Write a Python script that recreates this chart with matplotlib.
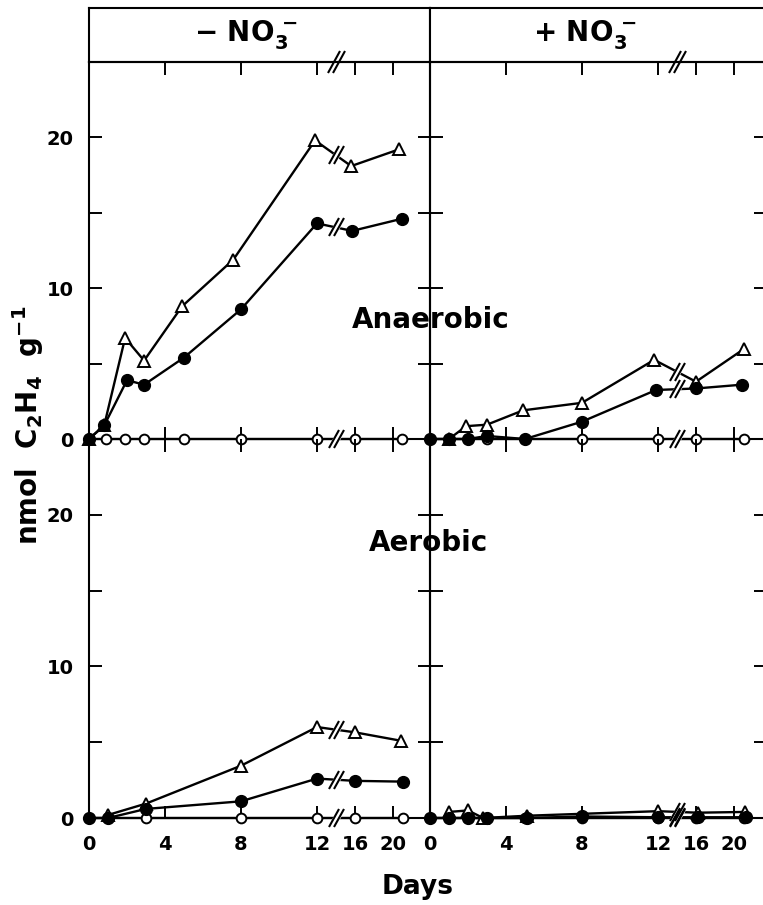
import numpy as np
import matplotlib
matplotlib.use('Agg')
import matplotlib.pyplot as plt
from matplotlib.markers import MarkerStyle
from matplotlib.transforms import Affine2D, offset_copy

# nmol C2H4 g-1 against days
# -NO3, anaerobic
am_tri_days = [0, 0.8, 1.9, 2.9, 4.9, 7.6, 11.9, 15.6, 20.6]
am_tri = [0, 0.9, 6.7, 5.2, 8.8, 11.9, 19.8, 18.1, 19.2]
am_fill_days = [0, 0.8, 2.0, 2.9, 5.0, 8.0, 12.0, 15.7, 20.9]
am_fill = [0, 0.9, 3.9, 3.6, 5.4, 8.6, 14.3, 13.8, 14.6]
am_open_days = [0, 0.9, 1.9, 2.9, 5.0, 8.0, 12.0, 16.0, 20.9]
am_open = [0, 0, 0, 0, 0, 0, 0, 0, 0]
# +NO3, anaerobic
ap_tri_days = [1, 1.9, 3.0, 4.9, 8.0, 11.8, 16.0, 21.0]
ap_tri = [0, 0.85, 0.95, 1.9, 2.4, 5.25, 3.8, 5.95]
ap_fill_days = [0, 1, 2, 3, 5, 8, 11.9, 16.0, 20.8]
ap_fill = [0, 0, 0, 0.2, 0, 1.15, 3.25, 3.35, 3.6]
ap_open_days = [0, 1, 2, 3, 5, 8, 12, 16, 21.1]
ap_open = [0, 0, 0, 0, 0, 0, 0, 0, 0]
# -NO3, aerobic
em_tri_days = [1, 3, 8, 12, 16, 20.8]
em_tri = [0.2, 0.95, 3.45, 6.0, 5.65, 5.1]
em_fill_days = [0, 1, 3, 8, 12, 16, 21]
em_fill = [0, 0, 0.6, 1.1, 2.6, 2.45, 2.4]
em_open_days = [0, 1, 3, 8, 12, 16, 21]
em_open = [0, 0, 0, 0, 0, 0, 0]
# +NO3, aerobic
ep_tri_days = [1, 2, 2.8, 5.1, 12, 16.2, 21.2]
ep_tri = [0.4, 0.5, 0, 0.15, 0.45, 0.35, 0.4]
ep_fill_days = [0, 1, 2, 3, 5.1, 8, 12, 16.2, 21.3]
ep_fill = [0, 0, 0, 0, 0, 0.1, 0.05, 0.05, 0.05]
ep_open_days = [0, 1, 2, 3, 5, 8, 12, 16, 21]
ep_open = [0, 0, 0, 0, 0, 0, 0, 0, 0]

day_ticks = [0, 4, 8, 12, 16, 20]
y_ticks = [0, 5, 10, 15, 20]
y_labels = ['0', '', '10', '', '20']
headers = [r'$-$ NO$_3^{\,-}$', r'+ NO$_3^{\,-}$']
break_day = 14


# axis is compressed by half after day 12
def fwd(d):
    d = np.asarray(d, dtype=float)
    return np.where(d <= 12, d, 12 + (d - 12) / 2)


def inv(p):
    p = np.asarray(p, dtype=float)
    return np.where(p <= 12, p, 12 + (p - 12) * 2)


plt.rcParams['font.family'] = 'DejaVu Sans'
plt.rcParams['font.weight'] = 'bold'
plt.rcParams['mathtext.default'] = 'regular'

W, H = 763, 905
fig = plt.figure(figsize=(W / 100, H / 100), dpi=100)

x0, xmid, x1 = 89, 430, 766
y_head, y_top, y_mid, y_bot = 8, 62, 439, 818
cols = [(x0, xmid), (xmid, x1)]

slash = MarkerStyle('|', transform=Affine2D().rotate_deg(-30))


def brk(ax, y):
    ax.plot([break_day], [y], ls='none', marker=slash, ms=15, mew=5,
            color='white', clip_on=False, zorder=6)
    for dx in (-2.5, 2.5):
        tr = offset_copy(ax.transData, fig=fig, x=dx, y=0, units='dots')
        ax.plot([break_day], [y], ls='none', marker=slash, ms=15, mew=1.5,
                color='black', transform=tr, clip_on=False, zorder=7)


def draw(ax, series):
    for (days, vals, kind) in series:
        if kind == 'open':
            kw = dict(marker='o', ms=7, mfc='white', mec='black', mew=1.4)
        elif kind == 'tri':
            kw = dict(marker='^', ms=8, mfc='white', mec='black', mew=1.4)
        else:
            kw = dict(marker='o', ms=8.5, mfc='black', mec='black')
        ax.plot(days, vals, color='black', lw=1.7, clip_on=False, zorder=5, **kw)
        yb = np.interp(fwd(break_day), fwd(days), vals)
        brk(ax, yb)


panels = [
    [[(am_open_days, am_open, 'open'), (am_tri_days, am_tri, 'tri'), (am_fill_days, am_fill, 'fill')],
     [(em_open_days, em_open, 'open'), (em_tri_days, em_tri, 'tri'), (em_fill_days, em_fill, 'fill')]],
    [[(ap_open_days, ap_open, 'open'), (ap_tri_days, ap_tri, 'tri'), (ap_fill_days, ap_fill, 'fill')],
     [(ep_open_days, ep_open, 'open'), (ep_tri_days, ep_tri, 'tri'), (ep_fill_days, ep_fill, 'fill')]],
]

for c, (xa, xb) in enumerate(cols):
    xl = xa / W
    wd = (xb - xa) / W
    xmax = float(inv((xb - xa) / 19.0))

    # header box
    hx = fig.add_axes([xl, 1 - y_top / H, wd, (y_top - y_head) / H])
    hx.set_xticks([])
    hx.set_yticks([])
    for s in hx.spines.values():
        s.set_linewidth(1.5)
    hx.text(0.46, 0.5, headers[c], transform=hx.transAxes, ha='center', va='center',
            fontsize=20, fontweight='bold')

    for r in range(2):
        if r == 0:
            ax = fig.add_axes([xl, 1 - y_mid / H, wd, (y_mid - y_top) / H])
        else:
            ax = fig.add_axes([xl, 1 - y_bot / H, wd, (y_bot - y_mid) / H])
        ax.set_xscale('function', functions=(fwd, inv))
        ax.set_xlim(0, xmax)
        ax.set_ylim(0, 25)
        ax.patch.set_alpha(0)
        for s in ax.spines.values():
            s.set_linewidth(1.5)
        ax.set_xticks(day_ticks)
        ax.set_yticks(y_ticks)
        ax.tick_params(axis='y', direction='in', length=9, width=1.4, left=True, right=True,
                       labelleft=(c == 0), labelsize=14, pad=11)
        ax.tick_params(axis='x', direction='in', length=9, width=1.4, top=True, bottom=True)
        if r == 0:
            ax.set_xticklabels([])
            # break sign on top edge
            for dx in (-2.5, 2.5):
                tr = offset_copy(ax.transData, fig=fig, x=dx, y=0, units='dots')
                ax.plot([break_day], [25], ls='none', marker=slash, ms=18, mew=1.5,
                        color='black', transform=tr, clip_on=False, zorder=7)
        else:
            ax.spines['top'].set_visible(False)
            ax.set_xticklabels([str(d) for d in day_ticks])
            ax.tick_params(axis='x', labelsize=14, pad=12)
        if c == 0:
            ax.set_yticklabels(y_labels)
        draw(ax, panels[c][r])

fig.text(28 / W, 1 - 425 / H, r'nmol  C$_2$H$_4$  g$^{-1}$', rotation=90, ha='center',
         va='center', fontsize=20, fontweight='bold')
fig.text(431 / W, 1 - 320 / H, 'Anaerobic', ha='center', va='center', fontsize=20,
         fontweight='bold')
fig.text(428 / W, 1 - 543 / H, 'Aerobic', ha='center', va='center', fontsize=20,
         fontweight='bold')
fig.text(418 / W, 1 - 887 / H, 'Days', ha='center', va='center', fontsize=19,
         fontweight='bold')

fig.savefig('out.png', dpi=100)
